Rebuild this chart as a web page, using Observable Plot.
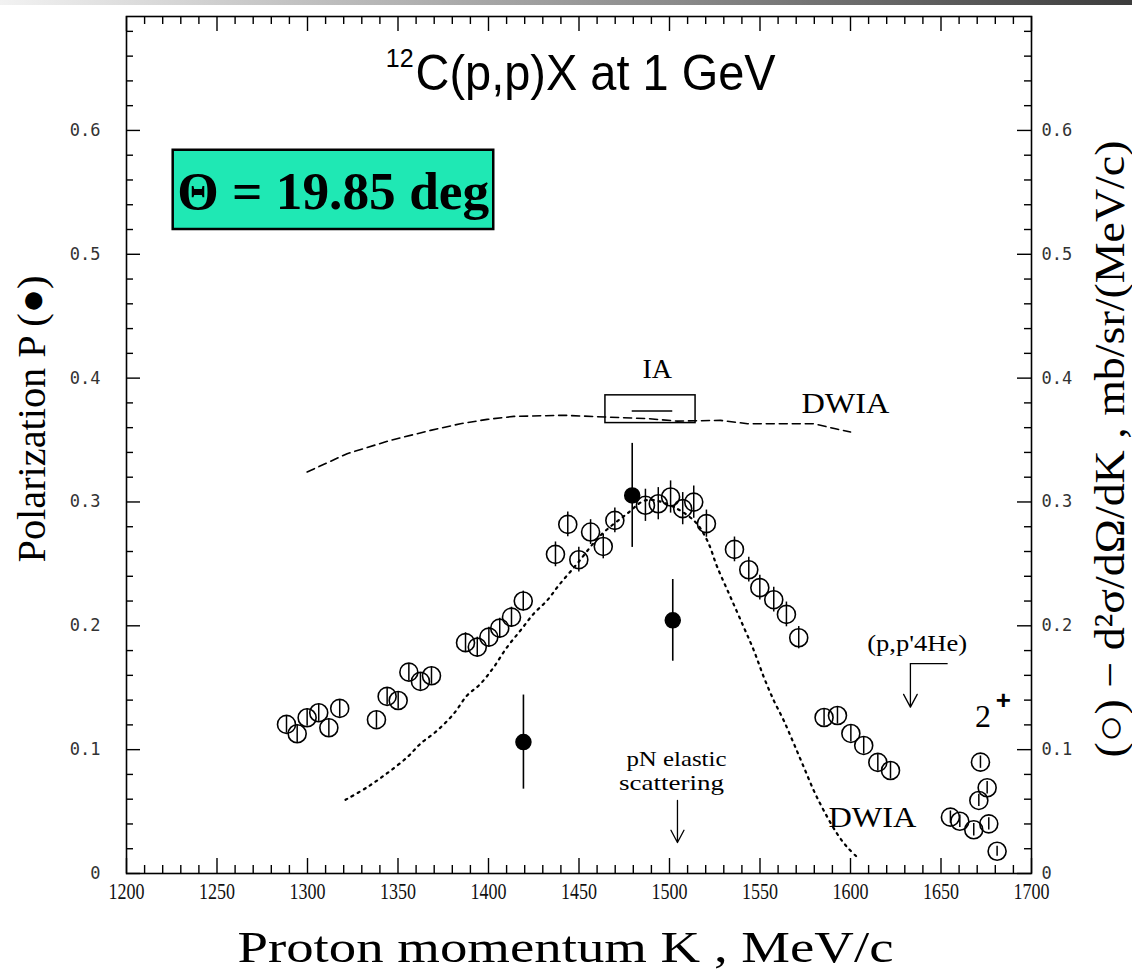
<!DOCTYPE html>
<html>
<head>
<meta charset="utf-8">
<script src="https://cdn.jsdelivr.net/npm/d3@7"></script>
<script src="https://cdn.jsdelivr.net/npm/@observablehq/plot@0.6"></script>
<style>
  body { margin: 0; background: #fff; }
  #wrap { position: relative; width: 1132px; height: 973px; overflow: hidden; }
  #bar { position: absolute; left: 0; top: 0; width: 1132px; height: 5px;
         background: linear-gradient(to right, #f2f2f2 0%, #c4c4c4 25%, #8a8a8a 60%, #3c3c3c 100%); }
</style>
</head>
<body>
<div id="wrap"><div id="bar"></div></div>
<script>
// Proton momentum K (MeV/c) and cross section d2sigma/dOmega/dK (open circles)
const crossK = [1288.4, 1294.3, 1299.8, 1306.2, 1311.8, 1317.8, 1338.1, 1344.0, 1350.1, 1356.0, 1362.4, 1368.5,
  1387.3, 1393.8, 1400.2, 1406.2, 1412.7, 1419.2, 1437.0, 1443.8, 1449.9, 1456.4, 1463.4, 1469.8,
  1486.7, 1493.8, 1500.6, 1507.3, 1513.4, 1520.4, 1535.9, 1543.8, 1549.9, 1557.6, 1564.6, 1571.4,
  1585.4, 1592.8, 1600.2, 1607.3, 1615.1, 1622.1,
  1655.2, 1660.4, 1668.1, 1670.9, 1675.5, 1671.8, 1676.4, 1681.0];
const crossV = [0.1204, 0.1128, 0.1258, 0.1298, 0.1177, 0.1333, 0.1242, 0.1430, 0.1397, 0.1626, 0.1551, 0.1597,
  0.1864, 0.1828, 0.1909, 0.1981, 0.2070, 0.2200, 0.2577, 0.2819, 0.2534, 0.2757, 0.2641, 0.2851,
  0.2973, 0.2986, 0.3040, 0.2946, 0.2999, 0.2825, 0.2617, 0.2453, 0.2308, 0.2211, 0.2092, 0.1904,
  0.1260, 0.1276, 0.1131, 0.1034, 0.0897, 0.0832,
  0.0455, 0.0422, 0.0353, 0.0590, 0.0692, 0.0899, 0.0401, 0.0180];
const crossErr = [0.007, 0.007, 0.007, 0.007, 0.007, 0.007, 0.007, 0.007, 0.007, 0.007, 0.007, 0.007,
  0.008, 0.008, 0.008, 0.008, 0.008, 0.008, 0.010, 0.010, 0.010, 0.010, 0.010, 0.010,
  0.013, 0.013, 0.013, 0.013, 0.013, 0.011, 0.010, 0.010, 0.010, 0.010, 0.010, 0.009,
  0.007, 0.007, 0.007, 0.007, 0.007, 0.007,
  0.005, 0.005, 0.005, 0.005, 0.005, 0.005, 0.005, 0.004];

// Polarization P (filled points)
const polK = [1419.3, 1479.4, 1501.8];
const polV = [0.1061, 0.3053, 0.2044];
const polErr = [0.038, 0.042, 0.033];

// DWIA polarization (dashed)
const dwiaPK = [1299.8, 1321.9, 1345.9, 1368.0, 1384.5, 1399.3, 1414.0, 1441.6, 1464.6, 1487.7, 1504.3, 1528.2, 1543.1, 1579.6, 1591.7, 1600.0];
const dwiaPV = [0.3242, 0.3390, 0.3498, 0.3578, 0.3632, 0.3667, 0.3691, 0.3700, 0.3686, 0.3673, 0.3653, 0.3659, 0.3632, 0.3632, 0.3591, 0.3565];

// DWIA cross section (dotted)
const dwiaXK = [1321.0, 1333.0, 1344.0, 1355.1, 1362.4, 1371.7, 1380.8, 1388.2, 1395.6, 1402.9, 1410.3, 1417.7, 1425.0, 1432.4, 1438.8,
  1449.0, 1461.9, 1476.6, 1486.7, 1497.8, 1513.4, 1520.8, 1526.4, 1533.7, 1541.0, 1546.6, 1552.1, 1557.6, 1563.1, 1568.7,
  1574.2, 1579.7, 1585.2, 1592.6, 1598.2, 1603.7];
const dwiaXV = [0.0595, 0.0697, 0.0810, 0.0939, 0.1048, 0.1155, 0.1290, 0.1438, 0.1532, 0.1666, 0.1828, 0.1963, 0.2098, 0.2205, 0.2326,
  0.2502, 0.2730, 0.2906, 0.3013, 0.2989, 0.2851, 0.2690, 0.2474, 0.2232, 0.1990, 0.1801, 0.1586, 0.1397, 0.1236, 0.1048,
  0.0859, 0.0670, 0.0509, 0.0321, 0.0212, 0.0132];

// IA prediction: band and central value
const iaBand = {k1: 1464.6, k2: 1514.4, v1: 0.3637, v2: 0.3861};
const iaLine = {k1: 1479.4, k2: 1501.8, v: 0.3734};

// Axes
const xTicks = [1200, 1250, 1300, 1350, 1400, 1450, 1500, 1550, 1600, 1650, 1700];
const yTicks = [0, 0.1, 0.2, 0.3, 0.4, 0.5, 0.6];
const yTickLabels = ["0", "0.1", "0.2", "0.3", "0.4", "0.5", "0.6"];
const xMinor = d3.range(1200, 1701, 10).filter(d => d % 50 !== 0);
const yMinor = d3.range(0, 35).map(i => i * 0.02).filter((d, i) => i % 5 !== 0);

const cross = crossK.map((k, i) => ({k, v: crossV[i], e: crossErr[i]}));
const pol = polK.map((k, i) => ({k, v: polV[i], e: polErr[i]}));
const dashed = dwiaPK.map((k, i) => ({k, v: dwiaPV[i]}));
const dotted = dwiaXK.map((k, i) => ({k, v: dwiaXV[i]}));

const W = 1132, H = 973, mL = 126, mR = 101, mT = 16, mB = 100;
const iw = W - mL - mR, ih = H - mT - mB;
const serif = "'Liberation Serif', 'Times New Roman', serif";
const sans = "'Liberation Sans', Arial, sans-serif";
const mono = "'DejaVu Sans Mono', monospace";

const TITLE = "C(p,p)X at 1 GeV";
const ANGLE = "\u0398 = 19.85 deg";
const XTITLE = "Proton momentum K , MeV/c";
const YTITLE_L = "Polarization P (\u25CF)";
const YTITLE_R = "(\u25CB) \u2212 d\u00B2\u03C3/d\u03A9/dK , mb/sr/(MeV/c)";

// annotation text placed at its start (left end) unless told otherwise
const note = (k, v, t, opts) => Plot.text([{k, v, t}], {x: "k", y: "v", text: "t", fill: "black", textAnchor: "start", ...opts});

const chart = Plot.plot({
  width: W, height: H,
  marginLeft: mL, marginRight: mR, marginTop: mT, marginBottom: mB,
  x: {domain: [1200, 1700], axis: null},
  y: {domain: [0, 0.692], axis: null},
  style: {background: "white", color: "black", overflow: "visible"},
  marks: [
    // tick marks on all four sides, pointing inward
    Plot.tickX(xMinor, {x: d => d, insetTop: ih - 8, stroke: "black", strokeWidth: 1.4}),
    Plot.tickX(xTicks, {x: d => d, insetTop: ih - 15, stroke: "black", strokeWidth: 1.4}),
    Plot.tickX(xMinor, {x: d => d, insetBottom: ih - 8, stroke: "black", strokeWidth: 1.4}),
    Plot.tickX(xTicks, {x: d => d, insetBottom: ih - 15, stroke: "black", strokeWidth: 1.4}),
    Plot.tickY(yMinor, {y: d => d, insetRight: iw - 7, stroke: "black", strokeWidth: 1.4}),
    Plot.tickY(yTicks, {y: d => d, insetRight: iw - 14, stroke: "black", strokeWidth: 1.4}),
    Plot.tickY(yMinor, {y: d => d, insetLeft: iw - 7, stroke: "black", strokeWidth: 1.4}),
    Plot.tickY(yTicks, {y: d => d, insetLeft: iw - 14, stroke: "black", strokeWidth: 1.4}),
    Plot.frame({stroke: "black", strokeWidth: 1.6}),

    // tick labels
    Plot.text(xTicks, {x: d => d, text: d => String(d), frameAnchor: "bottom", textAnchor: "start", dx: -18, dy: 25,
      fontFamily: serif, fontSize: 24, fill: "#111"}),
    Plot.text(yTicks, {y: d => d, text: (d, i) => yTickLabels[i], frameAnchor: "left", textAnchor: "end",
      dx: -26, fontFamily: mono, fontSize: 17, fill: "#333"}),
    Plot.text(yTicks, {y: d => d, text: (d, i) => yTickLabels[i], frameAnchor: "right", textAnchor: "start",
      dx: 10, fontFamily: mono, fontSize: 17, fill: "#333"}),

    // axis titles
    note(1261.3, -0.0600, XTITLE, {fontFamily: serif, fontSize: 44}),
    Plot.text([YTITLE_L], {frameAnchor: "left", rotate: -90, textAnchor: "start", dx: -94, dy: 117.5,
      fontFamily: serif, fontSize: 40, fill: "black"}),
    Plot.text([YTITLE_R], {frameAnchor: "right", rotate: -90, textAnchor: "start", dx: 79, dy: 312.5,
      fontFamily: serif, fontSize: 42, fill: "black"}),

    // theory curves
    Plot.line(dashed, {x: "k", y: "v", stroke: "black", strokeWidth: 1.6, strokeDasharray: "8,5", curve: "linear"}),
    Plot.line(dotted, {x: "k", y: "v", stroke: "black", strokeWidth: 2.2, strokeDasharray: "2,5", curve: "catmull-rom"}),
    Plot.rect([iaBand], {x1: "k1", x2: "k2", y1: "v1", y2: "v2", fill: "none", stroke: "black", strokeWidth: 1.5}),
    Plot.ruleY([iaLine], {x1: "k1", x2: "k2", y: "v", stroke: "black", strokeWidth: 1.5}),

    // cross section data
    Plot.dot(cross, {x: "k", y: "v", r: 9, fill: "none", stroke: "black", strokeWidth: 1.6}),
    Plot.ruleX(cross, {x: "k", y1: d => d.v - d.e, y2: d => d.v + d.e, stroke: "black", strokeWidth: 1.5}),

    // polarization data
    Plot.ruleX(pol, {x: "k", y1: d => d.v - d.e, y2: d => d.v + d.e, stroke: "black", strokeWidth: 1.6}),
    Plot.dot(pol, {x: "k", y: "v", r: 7.5, fill: "black", stroke: "black"}),

    // angle box
    Plot.rect([{k1: 1225.8, k2: 1402.9, v1: 0.520, v2: 0.584}], {x1: "k1", x2: "k2", y1: "v1", y2: "v2",
      fill: "#1fe8b4", stroke: "black", strokeWidth: 2.5}),
    note(1228.0, 0.5501, ANGLE, {fontFamily: serif, fontSize: 53, fontWeight: "bold"}),

    // title
    note(1359.7, 0.6454, TITLE, {fontFamily: sans, fontSize: 50}),
    note(1358.6, 0.6580, "12", {fontFamily: sans, fontSize: 25, textAnchor: "end"}),

    // labels on the curves and features
    note(1493.2, 0.4077, "IA", {fontFamily: serif, fontSize: 28, textAnchor: "middle"}),
    note(1572.9, 0.3794, "DWIA", {fontFamily: serif, fontSize: 30}),
    note(1587.8, 0.0455, "DWIA", {fontFamily: serif, fontSize: 30}),
    note(1476.2, 0.0925, "pN elastic", {fontFamily: serif, fontSize: 21}),
    note(1472.1, 0.0732, "scattering", {fontFamily: serif, fontSize: 21}),
    note(1609.2, 0.1858, "(p,p'4He)", {fontFamily: serif, fontSize: 24}),
    note(1673.2, 0.1268, "2", {fontFamily: serif, fontSize: 32, textAnchor: "middle"}),
    note(1684.5, 0.1397, "+", {fontFamily: sans, fontSize: 26, fontWeight: "bold", textAnchor: "middle"}),

    // arrows
    Plot.arrow([{k: 1504.4, v1: 0.0590, v2: 0.0250}], {x1: "k", x2: "k", y1: "v1", y2: "v2",
      stroke: "black", strokeWidth: 1.3, headLength: 16, headAngle: 56}),
    Plot.line([{k: 1653.4, v: 0.1694}, {k: 1633.1, v: 0.1694}], {x: "k", y: "v", stroke: "black", strokeWidth: 1.3}),
    Plot.arrow([{k: 1633.1, v1: 0.1694, v2: 0.1343}], {x1: "k", x2: "k", y1: "v1", y2: "v2",
      stroke: "black", strokeWidth: 1.3, headLength: 17, headAngle: 56})
  ]
});

// printed widths of the labels, in pixels
const widths = new Map([
  [XTITLE, 656], [YTITLE_L, 287], [YTITLE_R, 617], [TITLE, 360], [ANGLE, 312],
  ["DWIA", 88], ["pN elastic", 100], ["scattering", 105], ["(p,p'4He)", 100],
  ...xTicks.map(d => [String(d), 36])
]);
d3.select(chart).selectAll("text").each(function () {
  const len = widths.get(this.textContent);
  if (len) d3.select(this).attr("textLength", len).attr("lengthAdjust", "spacingAndGlyphs");
});

document.getElementById("wrap").prepend(chart);
</script>
</body>
</html>
